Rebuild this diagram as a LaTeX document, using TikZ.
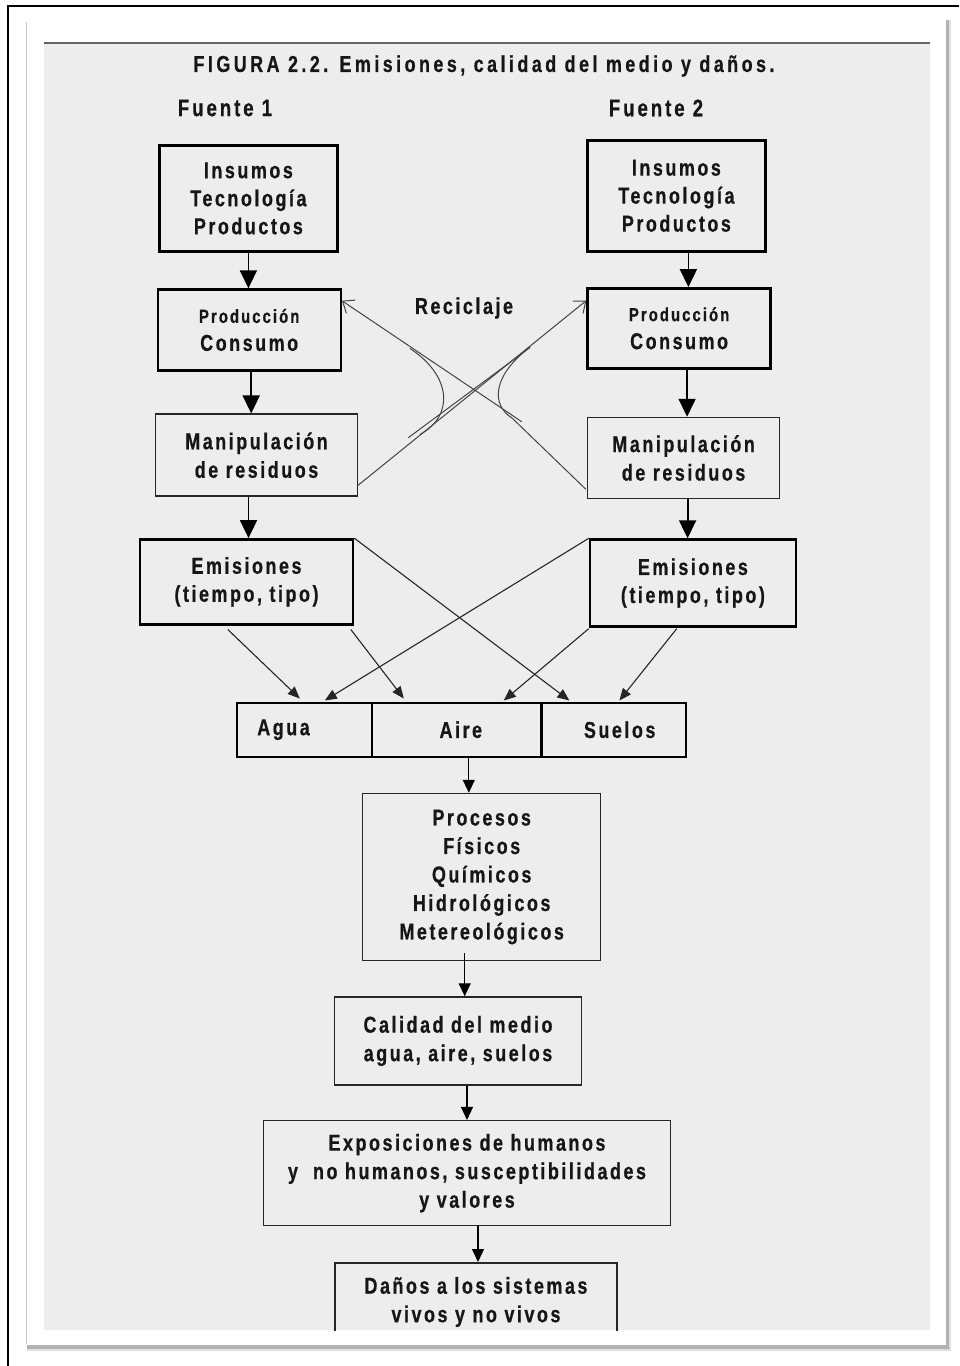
\documentclass[tikz,border=0pt]{standalone}
\usepackage{fontspec}
\setmainfont{Liberation Sans}[FakeStretch=0.78,LetterSpace=11,BoldFeatures={FakeBold=0.6}]
\usetikzlibrary{arrows.meta,calc}
\definecolor{bg}{HTML}{EDEDED}
\definecolor{txt}{HTML}{161616}
\definecolor{topline}{HTML}{666666}
\definecolor{recl}{HTML}{444444}
\begin{document}
\begin{tikzpicture}[x=1pt,y=-1pt,
  thickbox/.style={draw=black,line width=2.4pt,inner sep=0pt,align=center,text=txt,
    font={\fontsize{23}{28}\selectfont\bfseries}},
  thinbox/.style={draw=black!85,line width=1.5pt,inner sep=0pt,align=center,text=txt,
    font={\fontsize{23}{28.5}\selectfont\bfseries}},
  lbl/.style={inner sep=0pt,text=txt,align=center,font={\fontsize{23}{28.5}\selectfont\bfseries}},
  bigarr/.style={line width=1.8pt,-{Triangle[length=18pt,width=17pt]}},
  medarr/.style={line width=1.3pt,-{Triangle[length=13pt,width=12pt]}},
  crossarr/.style={line width=1.1pt,draw=black!85,-{Triangle[length=12pt,width=10pt]}},
  recarr/.style={line width=1pt,draw=recl,-{Straight Barb[length=10pt,width=16pt]}},
  recline/.style={line width=1pt,draw=recl}]
\useasboundingbox (0,0) rectangle (959,1366);
\fill[white] (0,0) rectangle (959,1366);
% outer frame (left and top)
\draw[line width=2.4pt] (7.7,1366) -- (7.7,6) -- (959,6);
% panel with shadow
\fill[black!12] (27,20) rectangle (951,1351);
\fill[black!30] (27,20) rectangle (949,1349);
\fill[white] (26,19) rectangle (945.5,1344.5);
\draw[black!22,line width=1.5pt] (26.5,22) -- (26.5,1344);
% grey area
\fill[bg] (44,42) rectangle (930,1330);
\draw[topline,line width=2.2pt] (44,43) -- (930,43);

% titles
\node[lbl,font={\fontsize{23}{26}\selectfont\bfseries\addfontfeature{LetterSpace=15}}] (title) at (484,66) {FIGURA 2.2. Emisiones, calidad del medio y daños.};
\node[lbl,font={\fontsize{24}{26}\selectfont\bfseries\addfontfeature{LetterSpace=12}}] (f1) at (225,108) {Fuente 1};
\node[lbl,font={\fontsize{24}{26}\selectfont\bfseries\addfontfeature{LetterSpace=12}}] (f2) at (656,108) {Fuente 2};
\node[lbl] (rec) at (464,308) {Reciclaje};

% Fuente 1 column
\node[thickbox,minimum width=178pt,minimum height=106pt] (ins1) at (248.4,198.4) {Insumos\\Tecnología\\Productos};
\node[thickbox,minimum width=183pt,minimum height=81pt] (prod1) at (249.2,330) {{\fontsize{19}{28}\selectfont Producción}\\Consumo};
\node[thinbox,minimum width=202pt,minimum height=82pt] (man1) at (256.5,455.2) {Manipulación\\de residuos};
\node[thickbox,minimum width=213pt,minimum height=85pt] (emi1) at (246.5,581.8) {Emisiones\\(tiempo, tipo)};

% Fuente 2 column
\node[thickbox,minimum width=178pt,minimum height=111pt] (ins2) at (676.4,195.8) {Insumos\\Tecnología\\Productos};
\node[thickbox,minimum width=183pt,minimum height=80pt] (prod2) at (679.1,328.3) {{\fontsize{19}{28}\selectfont Producción}\\Consumo};
\node[thinbox,minimum width=192pt,minimum height=81pt] (man2) at (683.6,458) {Manipulación\\de residuos};
\node[thickbox,minimum width=206pt,minimum height=87pt] (emi2) at (692.9,583) {Emisiones\\(tiempo, tipo)};

% media row
\node[thickbox,minimum width=135pt,minimum height=54pt] (agua) at (304.5,729.7) {};
\node[thickbox,minimum width=169.6pt,minimum height=54pt] (aire) at (456.8,729.7) {};
\node[thickbox,minimum width=144.2pt,minimum height=54pt] (suelos) at (613.7,729.7) {};
\node[lbl] at ($(agua.center)+(-21,0)$) {Agua};
\node[lbl] at ($(aire.center)+(4,0)$) {Aire};
\node[lbl] at ($(suelos.center)+(6,0)$) {Suelos};

% lower chain
\node[thinbox,minimum width=238pt,minimum height=167pt] (proc) at (481.7,877) {Procesos\\Físicos\\Químicos\\Hidrológicos\\Metereológicos};
\node[thinbox,minimum width=247pt,minimum height=88pt] (cal) at (458,1041) {Calidad del medio\\agua, aire, suelos};
\node[thinbox,minimum width=407pt,minimum height=105pt] (expo) at (467,1173.2) {Exposiciones de humanos\\y\ \ no humanos,\ susceptibilidades\\y valores};
\begin{scope}
\clip (44,42) rectangle (930,1330);
\node[thinbox,minimum width=282pt,minimum height=100pt,anchor=north] (danos) at (476,1262) {};
\node[lbl] (danostxt) at (476,1302) {Daños a los sistemas\\vivos y no vivos};
\end{scope}

% anchor points of the vertical arrows
\coordinate (p1s) at ($(prod1.south)+(2,0)$);
\coordinate (m1s) at ($(man1.south)+(-8,0)$);
\coordinate (i2s) at ($(ins2.south)+(12,0)$);
\coordinate (p2s) at ($(prod2.south)+(8,0)$);
\coordinate (m2s) at ($(man2.south)+(4,0)$);
\coordinate (ais) at ($(aire.south)+(12,0)$);
\coordinate (prs) at ($(proc.south)+(-17,-8)$);
\coordinate (cas) at ($(cal.south)+(9,0)$);
\coordinate (exs) at ($(expo.south)+(11,0)$);

% vertical arrows
\draw[bigarr] (ins1.south) -- (ins1.south |- prod1.north);
\draw[bigarr] (p1s) -- (p1s |- man1.north);
\draw[bigarr] (m1s) -- (m1s |- emi1.north);
\draw[bigarr] (i2s) -- (i2s |- prod2.north);
\draw[bigarr] (p2s) -- (p2s |- man2.north);
\draw[bigarr] (m2s) -- (m2s |- emi2.north);
\draw[medarr] (ais) -- (ais |- proc.north);
\draw[medarr] (prs) -- (prs |- cal.north);
\draw[medarr] (cas) -- (cas |- expo.north);
\draw[medarr] (exs) -- (exs |- danos.north);

% emissions to media
\draw[crossarr] ($(emi1.south west)+(89,4)$) -- ($(agua.north west)+(64,-3)$);
\draw[crossarr] ($(emi1.south west)+(212,4)$) -- ($(aire.north west)+(33,-3)$);
\draw[crossarr] (emi1.north east) -- ($(suelos.north west)+(29,-1)$);
\draw[crossarr] (emi2.north west) -- ($(agua.north west)+(89,-1)$);
\draw[crossarr] ($(emi2.south west)+(0,1)$) -- ($(aire.north west)+(133,-1)$);
\draw[crossarr] ($(emi2.south west)+(88,1)$) -- ($(suelos.north west)+(79,-1)$);

% recycling
\draw[recarr] (521.7,421.7) -- ($(prod1.north east)+(0,12.4)$);
\draw[recarr] ($(man1.south east)+(-1,-11)$) -- ($(prod2.north west)+(0,13.4)$);
\draw[recline] (410,348.5) .. controls (452,376) and (454,416) .. (420,434.5);
\draw[recline] (530,347) .. controls (492,376) and (491,405) .. (512,418) -- ($(man2.south west)+(-1,-10)$);
\draw[recline] (530,347.5) -- (408.3,437.7);
\end{tikzpicture}
\end{document}
